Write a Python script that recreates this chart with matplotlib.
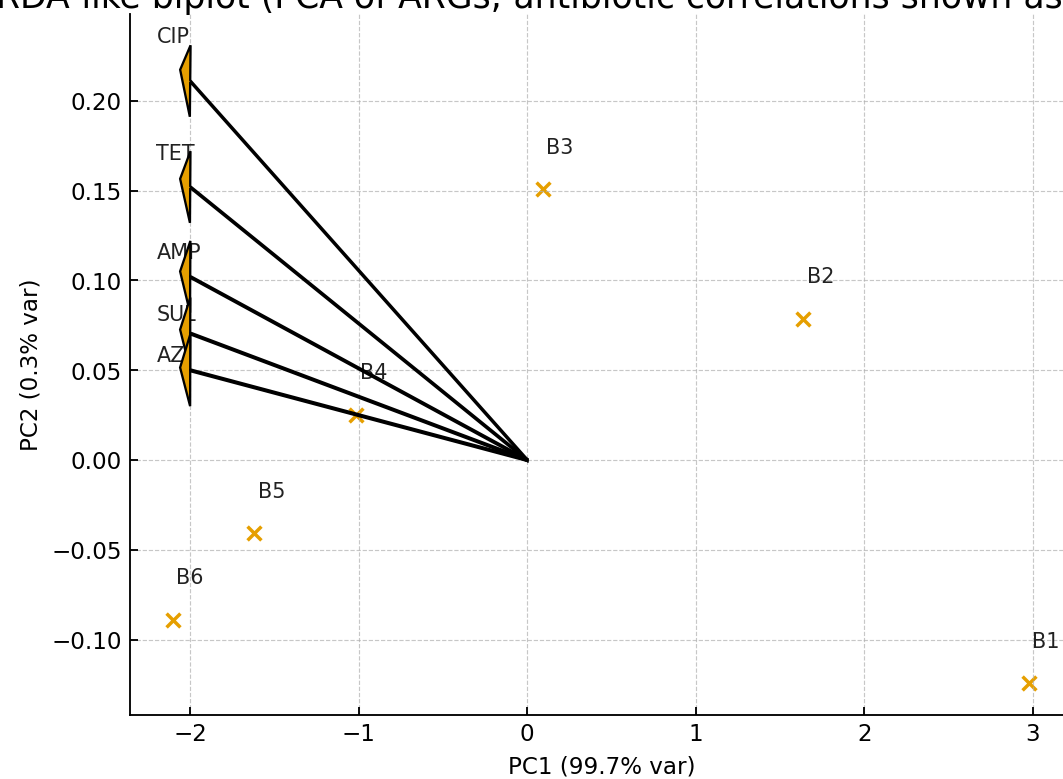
import matplotlib
matplotlib.use("Agg")
import matplotlib.pyplot as plt

# --- donnees ---
antibiotics = ["CIP", "TET", "AMP", "SUL", "AZI"]
arrow_dx = [-2.0, -2.0, -2.0, -2.0, -2.0]
arrow_dy = [0.211, 0.152, 0.102, 0.0705, 0.050]

samples = ["B1", "B2", "B3", "B4", "B5", "B6"]
pc1 = [2.975, 1.638, 0.093, -1.015, -1.620, -2.102]
pc2 = [-0.1243, 0.0786, 0.1507, 0.0251, -0.0407, -0.0891]

ORANGE = "#E69F00"
DPI = 166
fig = plt.figure(figsize=(1063.3 / DPI, 779.3 / DPI), dpi=DPI)
ax = fig.add_axes([130 / 1063, 64 / 779, 943 / 1063, 700.5 / 779])

ax.scatter(pc1, pc2, marker="x", color=ORANGE, s=36)
for name, x, y in zip(samples, pc1, pc2):
    ax.text(x + 0.02, y + 0.02, name, fontsize=9, color="#222222")

for name, dx, dy in zip(antibiotics, arrow_dx, arrow_dy):
    ax.arrow(0, 0, dx, dy, head_width=0.04, head_length=0.06,
             fc=ORANGE, ec="black", zorder=4)
    ax.text(dx * 1.1, dy * 1.1, name, fontsize=9, color="#222222")

ax.set_xlim(-2.357, 3.24)
ax.set_ylim(-0.1419, 0.2482)
ax.tick_params(direction="in")
ax.spines["top"].set_visible(False)
ax.grid(True, linestyle="--", linewidth=0.5, alpha=0.7)
ax.set_xlabel("PC1 (99.7% var)")
ax.set_ylabel("PC2 (0.3% var)")
# titre coupe a gauche comme sur l'original
ax.set_title("RDA-like biplot (PCA of ARGs; antibiotic correlations shown as arrows)",
             fontsize=15, pad=2, loc="left", x=-0.142)

fig.savefig("out.png", dpi=DPI, facecolor="white")
